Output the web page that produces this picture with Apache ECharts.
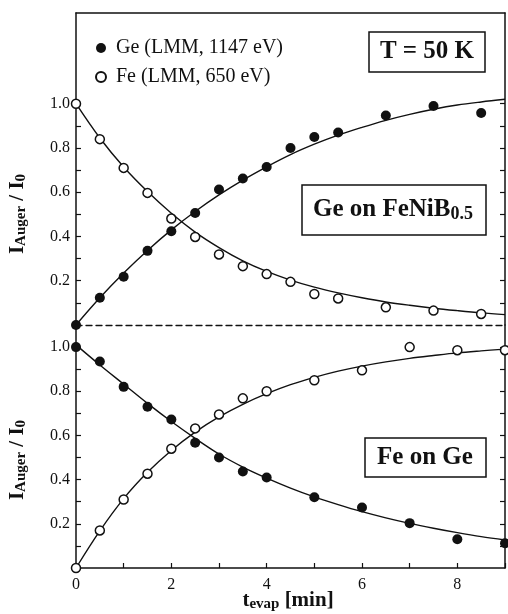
<!DOCTYPE html>
<html><head><meta charset="utf-8">
<script src="https://cdn.jsdelivr.net/npm/echarts@6/dist/echarts.min.js"></script>
<style>html,body{margin:0;padding:0;background:#fff}#c{width:508px;height:614px}</style>
</head><body><div id="c"></div>
<script>
// ---- data ----
const topTime = [0, 0.5, 1, 1.5, 2, 2.5, 3, 3.5, 4, 4.5, 5, 5.5, 6.5, 7.5, 8.5];
const topGe   = [0.0, 0.123, 0.218, 0.335, 0.424, 0.506, 0.612, 0.662, 0.714, 0.80, 0.85, 0.87, 0.947, 0.99, 0.958];
const topFe   = [1.0, 0.84, 0.71, 0.597, 0.481, 0.398, 0.319, 0.266, 0.23, 0.195, 0.14, 0.12, 0.08, 0.065, 0.05];

const botTime = [0, 0.5, 1, 1.5, 2, 2.5, 3, 3.5, 4, 5, 6, 7, 8, 9];
const botGe   = [1.0, 0.935, 0.82, 0.73, 0.672, 0.567, 0.50, 0.437, 0.41, 0.32, 0.274, 0.203, 0.13, 0.112];
const botFe   = [0.0, 0.17, 0.31, 0.427, 0.54, 0.632, 0.695, 0.768, 0.80, 0.85, 0.895, 1.0, 0.986, 0.986];

// fitted curves
const fitTime   = [0, 0.5, 1, 1.5, 2, 2.5, 3, 3.5, 4, 4.5, 5, 5.5, 6, 6.5, 7, 7.5, 8, 8.5, 9];
const topGeFit  = [0.0, 0.123, 0.235, 0.337, 0.43, 0.513, 0.588, 0.655, 0.715, 0.77, 0.817, 0.858, 0.893, 0.925, 0.952, 0.975, 0.994, 1.008, 1.02];
const topFeFit  = [1.0, 0.845, 0.714, 0.603, 0.505, 0.42, 0.35, 0.29, 0.242, 0.203, 0.171, 0.145, 0.123, 0.104, 0.089, 0.076, 0.065, 0.055, 0.047];
const botGeFit  = [1.01, 0.919, 0.832, 0.745, 0.663, 0.587, 0.516, 0.457, 0.407, 0.362, 0.322, 0.287, 0.255, 0.227, 0.202, 0.18, 0.16, 0.142, 0.127];
const botFeFit  = [0.0, 0.168, 0.314, 0.433, 0.532, 0.615, 0.684, 0.741, 0.789, 0.83, 0.863, 0.891, 0.914, 0.933, 0.949, 0.962, 0.974, 0.983, 0.991];

const xTicks = [0, 1, 2, 3, 4, 5, 6, 7, 8, 9];
const xLabels = [0, 2, 4, 6, 8];
const yTicks = [0.1, 0.2, 0.3, 0.4, 0.5, 0.6, 0.7, 0.8, 0.9, 1.0];
const yLabels = [0.2, 0.4, 0.6, 0.8, 1.0];

const nameGe = 'Ge (LMM, 1147 eV)';
const nameFe = 'Fe (LMM, 650 eV)';

// ---- chart ----
const F = '"Liberation Serif", "Times New Roman", serif';
const INK = '#111';
const pair = (xs, ys) => xs.map((x, i) => [x, ys[i]]);
const chart = echarts.init(document.getElementById('c'), null, {renderer: 'canvas'});

const solid = {show: true, onZero: false, lineStyle: {color: INK, width: 1.5}};
function yAx(grid, max, pos, labels) {
  return {
    type: 'value', gridIndex: grid, min: 0, max: max, position: pos,
    axisLine: solid,
    axisTick: {show: true, inside: true, length: 5, customValues: yTicks, lineStyle: {color: INK, width: 1.2}},
    axisLabel: labels ? {show: true, customValues: yLabels, margin: 6, color: INK,
      fontFamily: F, fontSize: 16, formatter: v => v.toFixed(1)} : {show: false},
    splitLine: {show: false}
  };
}
const lineS = (xi, yi, ys) => ({
  type: 'line', xAxisIndex: xi, yAxisIndex: yi, data: pair(fitTime, ys),
  smooth: 0.35, symbol: 'none', silent: true,
  lineStyle: {color: INK, width: 1.4}, z: 2
});
const filled = (name, xi, yi, xs, ys) => ({
  type: 'scatter', name: name, xAxisIndex: xi, yAxisIndex: yi, data: pair(xs, ys),
  symbol: 'circle', symbolSize: 10, itemStyle: {color: INK, opacity: 1}, z: 3, clip: false
});
const open = (name, xi, yi, xs, ys) => ({
  type: 'scatter', name: name, xAxisIndex: xi, yAxisIndex: yi, data: pair(xs, ys),
  symbol: 'circle', symbolSize: 9, itemStyle: {color: '#fff', borderColor: INK, borderWidth: 1.5, opacity: 1}, z: 4, clip: false
});

const boldT = {fontFamily: F, fontWeight: 'bold', fill: INK};
const yName = (y) => ({type: 'text', x: 18, y: y, rotation: Math.PI / 2, z: 11,
  style: {text: '{a|I}{s|Auger}{a| / I}{s|0}', align: 'center', verticalAlign: 'middle',
    rich: {a: Object.assign({fontSize: 21, lineHeight: 22}, boldT),
           s: Object.assign({fontSize: 15, lineHeight: 4, verticalAlign: 'bottom'}, boldT)}}});

const option = {
  backgroundColor: '#fff',
  animation: false,
  grid: [
    {left: 76, top: 13, width: 429, height: 312, outerBoundsMode: 'none'},
    {left: 76, top: 325, width: 429, height: 243, outerBoundsMode: 'none'}
  ],
  xAxis: [
    {type: 'value', gridIndex: 0, min: 0, max: 9, position: 'bottom',
     axisLine: {show: true, onZero: false, lineStyle: {color: INK, width: 1.3, type: [6, 4]}},
     axisTick: {show: false}, axisLabel: {show: false}, splitLine: {show: false}},
    {type: 'value', gridIndex: 0, min: 0, max: 9, position: 'top',
     axisLine: solid, axisTick: {show: false}, axisLabel: {show: false}, splitLine: {show: false}},
    {type: 'value', gridIndex: 1, min: 0, max: 9, position: 'bottom',
     axisLine: solid,
     axisTick: {show: true, inside: true, length: 5, customValues: xTicks, lineStyle: {color: INK, width: 1.2}},
     axisLabel: {show: true, customValues: xLabels, margin: 9, color: INK, fontFamily: F, fontSize: 16},
     splitLine: {show: false}}
  ],
  yAxis: [
    yAx(0, 1.41, 'left', true),
    yAx(0, 1.41, 'right', false),
    yAx(1, 1.1, 'left', true),
    yAx(1, 1.1, 'right', false)
  ],
  legend: {
    orient: 'vertical', left: 90, top: 32, itemWidth: 20, itemHeight: 10, itemGap: 7,
    selectedMode: false, data: [nameGe, nameFe],
    textStyle: {fontFamily: F, fontSize: 20, color: INK, lineHeight: 22}
  },
  series: [
    lineS(0, 0, topGeFit), lineS(0, 0, topFeFit),
    lineS(2, 2, botGeFit), lineS(2, 2, botFeFit),
    filled(nameGe, 0, 0, topTime, topGe),
    open(nameFe, 0, 0, topTime, topFe),
    filled(nameGe, 2, 2, botTime, botGe),
    open(nameFe, 2, 2, botTime, botFe)
  ],
  graphic: [
    {type: 'rect', shape: {x: 369, y: 32, width: 116, height: 40}, style: {fill: '#fff', stroke: INK, lineWidth: 1.5}, z: 10},
    {type: 'text', x: 427, y: 52, z: 11, style: Object.assign({text: 'T = 50 K', fontSize: 25, align: 'center', verticalAlign: 'middle'}, boldT)},
    {type: 'rect', shape: {x: 302, y: 185, width: 184, height: 50}, style: {fill: '#fff', stroke: INK, lineWidth: 1.5}, z: 10},
    {type: 'text', x: 393, y: 210, z: 11, style: {text: '{a|Ge on FeNiB}{s|0.5}', align: 'center', verticalAlign: 'middle',
      rich: {a: Object.assign({fontSize: 25, lineHeight: 26}, boldT), s: Object.assign({fontSize: 18, lineHeight: 4, verticalAlign: 'bottom'}, boldT)}}},
    {type: 'rect', shape: {x: 365, y: 438, width: 121, height: 39}, style: {fill: '#fff', stroke: INK, lineWidth: 1.5}, z: 10},
    {type: 'text', x: 425, y: 458, z: 11, style: Object.assign({text: 'Fe on Ge', fontSize: 25, align: 'center', verticalAlign: 'middle'}, boldT)},
    yName(214),
    yName(460),
    {type: 'text', x: 288, y: 601, z: 11, style: {text: '{a|t}{s|evap}{a| [min]}', align: 'center', verticalAlign: 'middle',
      rich: {a: Object.assign({fontSize: 21, lineHeight: 22}, boldT), s: Object.assign({fontSize: 15, lineHeight: 4, verticalAlign: 'bottom'}, boldT)}}}
  ]
};
chart.setOption(option);
</script>
</body></html>
